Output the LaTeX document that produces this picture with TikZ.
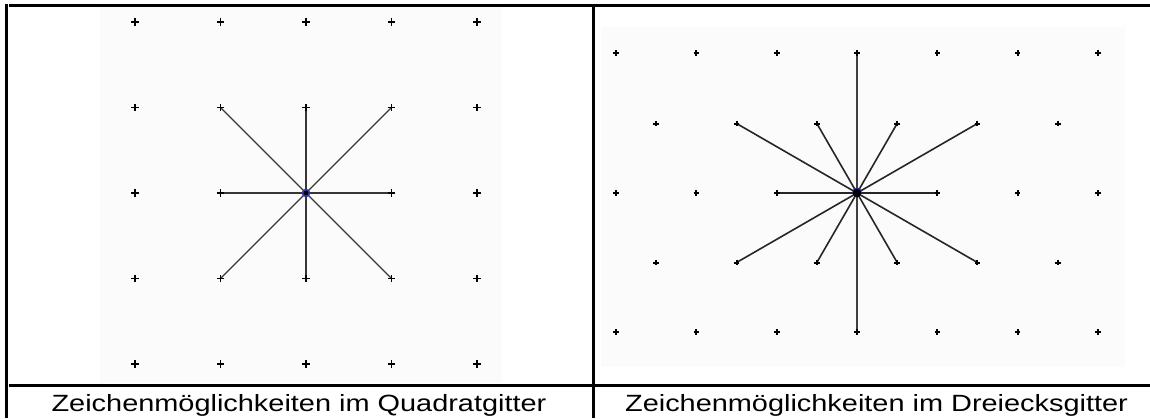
\documentclass[tikz,border=0pt]{standalone}
\usepackage{fontspec}
\setmainfont{Liberation Sans}
\definecolor{bgpanel}{RGB}{251,251,251}
\definecolor{raycol}{RGB}{55,55,55}
\definecolor{ctrblue}{RGB}{50,50,170}
\tikzset{
  frame/.style={line width=3pt, black},
  panel/.style={fill=bgpanel, draw=none},
  sqplus/.style={line width=1.4pt, black},
  triplus/.style={line width=2pt, black},
  sqray/.style={line width=1.3pt, raycol},
  triray/.style={line width=1.6pt, black!85},
  caption/.style={font=\fontsize{23.5}{28}\selectfont, anchor=base, inner sep=0pt},
}
\begin{document}
\begin{tikzpicture}[x=1pt,y=-1pt]
\useasboundingbox (0,0) rectangle (1150,418);
% panels
\fill[panel] (100,7) rectangle (502,383);
\fill[panel] (601,27) rectangle (1125,367);
% table frame
\draw[frame] (6,4) -- (6,418);
\draw[frame] (9,5.5) -- (1150,5.5);
\draw[frame] (593,4) -- (593,418);
\draw[frame] (9,385.5) -- (1150,385.5);
% ---- square grid ----
\foreach \i in {0,...,4}{
  \foreach \j in {0,...,4}{
    \coordinate (q-\i-\j) at ({135+85.5*\i},{22+85.5*\j});
  }
}
\foreach \i/\j in {1/1,2/1,3/1,1/2,3/2,1/3,2/3,3/3}{
  \draw[sqray] (q-2-2) -- (q-\i-\j);
}
\foreach \i in {0,...,4}{
  \foreach \j in {0,...,4}{
    \draw[sqplus] (q-\i-\j) ++(-3.7,0) -- ++(7.4,0) (q-\i-\j) ++(0,-3.7) -- ++(0,7.4);
  }
}
\fill[ctrblue] (q-2-2) circle (4.3);
\fill[black] (q-2-2) circle (2.3);
% ---- triangular grid ----
\foreach \k in {0,...,6}{
  \coordinate (t-1-\k) at ({616.1+80.3*\k},53);
  \coordinate (t-3-\k) at ({616.1+80.3*\k},193);
  \coordinate (t-5-\k) at ({616.1+80.3*\k},332);
}
\foreach \k in {0,...,5}{
  \coordinate (t-2-\k) at ({656.25+80.3*\k},123.5);
  \coordinate (t-4-\k) at ({656.25+80.3*\k},262.5);
}
\draw[line width=1.8pt, black!75] (t-1-3) -- (t-3-3) -- (t-5-3);
\draw[triray] (t-3-2) -- (t-3-3) -- (t-3-4);
\foreach \k in {1,2,3,4}{
  \draw[triray] (t-3-3) -- (t-2-\k);
  \draw[triray] (t-3-3) -- (t-4-\k);
}
\foreach \r in {1,3,5}{
  \foreach \k in {0,...,6}{
    \draw[triplus] (t-\r-\k) ++(-2.8,0) -- ++(5.6,0) (t-\r-\k) ++(0,-2.8) -- ++(0,5.6);
  }
}
\foreach \r in {2,4}{
  \foreach \k in {0,...,5}{
    \draw[triplus] (t-\r-\k) ++(-2.8,0) -- ++(5.6,0) (t-\r-\k) ++(0,-2.8) -- ++(0,5.6);
  }
}
\fill[ctrblue] (t-3-3) ++(0,-0.8) circle (4.8);
\fill[black] (t-3-3) circle (4.3);
% ---- captions ----
\node[caption] (capL) at (299,411) {\scalebox{1.23}[1]{Zeichenmöglichkeiten im Quadratgitter}};
\node[caption] (capR) at (876.5,411) {\scalebox{1.23}[1]{Zeichenmöglichkeiten im Dreiecksgitter}};
\end{tikzpicture}
\end{document}
